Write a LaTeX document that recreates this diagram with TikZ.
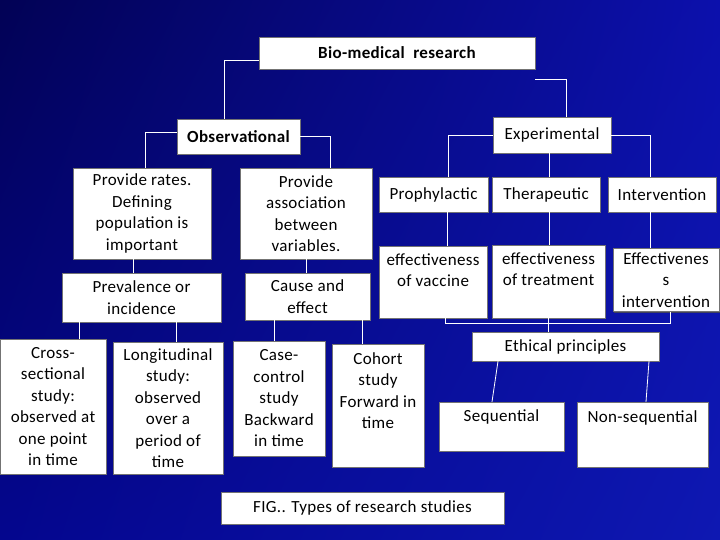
\documentclass[tikz,border=0pt]{standalone}
\usepackage{fontspec}
\setmainfont[LetterSpace=2.0]{Carlito}
\usetikzlibrary{positioning,calc,shadows,shadings}
\definecolor{bgdark}{RGB}{2,2,85}
\definecolor{bgmid}{RGB}{12,16,172}
\definecolor{bglow}{RGB}{4,6,142}
\definecolor{bglite}{RGB}{14,24,178}

\begin{document}
\begin{tikzpicture}[x=1pt,y=-1pt,
  box/.style={fill=white,draw=black!55,line width=0.4pt,align=center,inner sep=1pt,
              font=\fontsize{17}{21.5}\selectfont,
              drop shadow={shadow xshift=1.2pt,shadow yshift=-1.2pt,fill=black!70,opacity=0.8}},
  bbox/.style={box,font=\fontsize{17}{21.5}\selectfont\bfseries},
  link/.style={draw=white,line width=0.8pt}]
 % background
 \shade[upper left=bgdark,upper right=bgmid,lower left=bglow,lower right=bglite]
   (0,0) rectangle (720,540);
 \useasboundingbox (0,0) rectangle (720,540);
 % top levels
 \node[bbox,minimum width=276,minimum height=32] (bio) at (397,53) {Bio-medical\ \ research};
 \node[bbox,minimum width=123,minimum height=35] (obs) at (238.5,136.5) {Observational};
 \node[box,minimum width=118,minimum height=36] (exp) at (552,135) {Experimental};
 % observational side
 \node[box,minimum width=138,minimum height=91] (rates) at (142,213.5)
   {Provide rates.\\Defining\\population is\\important};
 \node[box,minimum width=132,minimum height=91] (assoc) at (306,213.5)
   {Provide\\association\\between\\variables.};
 \node[box,minimum width=159,minimum height=49] (prev) at (141.5,297.5) {Prevalence or\\incidence};
 \node[box,minimum width=125,minimum height=47] (cause) at (307.5,296.5) {Cause and\\effect};
 \node[box,minimum width=106,minimum height=135] (cross) at (53,406.5)
   {Cross-\\sectional\\study:\\observed at\\one point\\in time};
 \node[box,minimum width=110,minimum height=132] (longi) at (168,408)
   {Longitudinal\\study:\\observed\\over a\\period of\\time};
 \node[box,minimum width=92,minimum height=115] (casec) at (279,398.5)
   {Case-\\control\\study\\Backward\\in time};
 \node[box,minimum width=92,minimum height=123] (cohort) at (378,405.5)
   {Cohort\\study\\Forward in\\time\\[8pt]\mbox{}};
 % experimental side
 \node[box,minimum width=109,minimum height=35] (pro) at (433.5,194.5) {Prophylactic};
 \node[box,minimum width=108,minimum height=35] (ther) at (546,194.5) {Therapeutic};
 \node[box,minimum width=108,minimum height=35] (inter) at (662,194.5) {Intervention};
 \node[box,minimum width=108,minimum height=72] (vac) at (433,282)
   {effectiveness\\of vaccine\\[2pt]\mbox{}};
 \node[box,minimum width=113,minimum height=73] (treat) at (548.5,281.5)
   {effectiveness\\of treatment\\[3pt]\mbox{}};
 \node[box,minimum width=106,minimum height=63,inner ysep=0pt] (einter) at (666,280)
   {Effectivenes\\s\\intervention};
 \node[box,minimum width=187,minimum height=29] (ethic) at (565.5,346.5) {Ethical principles};
 \node[box,minimum width=125,minimum height=49] (seq) at (501.5,426.5) {Sequential\\[1pt]\mbox{}};
 \node[box,minimum width=131,minimum height=65] (nonseq) at (642.5,434.5)
   {Non-sequential\\[14pt]\mbox{}};
 \node[box,minimum width=283,minimum height=32] (fig) at (362.5,508) {FIG.. Types of research studies};
 % connectors
 \draw[link] ([yshift=-7pt]bio.west) -| ([xshift=-14pt]obs.north);
 \draw[link] ([yshift=-10pt]bio.south east) -| ([xshift=14pt]exp.north);
 \draw[link] ([yshift=4.5pt]obs.west) -| ([xshift=3pt]rates.north);
 \draw[link] (obs.east) -| ([xshift=24pt]assoc.north);
 \draw[link] (exp.west) -| ([xshift=14.5pt]pro.north);
 \draw[link] (exp.east) -| ([xshift=-12pt]inter.north);
 \draw[link] ([xshift=-3pt]exp.south) -- ([xshift=3pt]ther.north);
 \draw[link] ([xshift=-9pt]rates.south) -- ([xshift=-9pt]rates.south |- prev.north);
 \draw[link] (assoc.south) -- (assoc.south |- cause.north);
 \draw[link] ([xshift=-62.5pt]prev.south) -- ([xshift=-62.5pt]prev.south |- cross.north);
 \draw[link] ([xshift=34.5pt]prev.south) -- ([xshift=34.5pt]prev.south |- longi.north);
 \draw[link] ([xshift=-33.5pt]cause.south) -- ([xshift=-33.5pt]cause.south |- casec.north);
 \draw[link] ([xshift=54.5pt]cause.south) -- ([xshift=54.5pt]cause.south |- cohort.north);
 \draw[link] ([xshift=13.5pt]pro.south) -- ([xshift=13.5pt]pro.south |- vac.north);
 \draw[link] ([xshift=3pt]ther.south) -- ([xshift=3pt]ther.south |- treat.north);
 \draw[link] ([xshift=-12pt]inter.south) -- ([xshift=-12pt]inter.south |- einter.north);
 \draw[link] ([xshift=12pt]vac.south) -- ++(0,5) -| ([xshift=4pt]einter.south);
 \draw[link] (treat.south) -- (treat.south |- ethic.north);
 \draw[link] ([xshift=-67.5pt]ethic.south) -- ([xshift=-9.5pt]seq.north);
 \draw[link] ([xshift=83.5pt]ethic.south) -- ([xshift=3.5pt]nonseq.north);
\end{tikzpicture}
\end{document}
